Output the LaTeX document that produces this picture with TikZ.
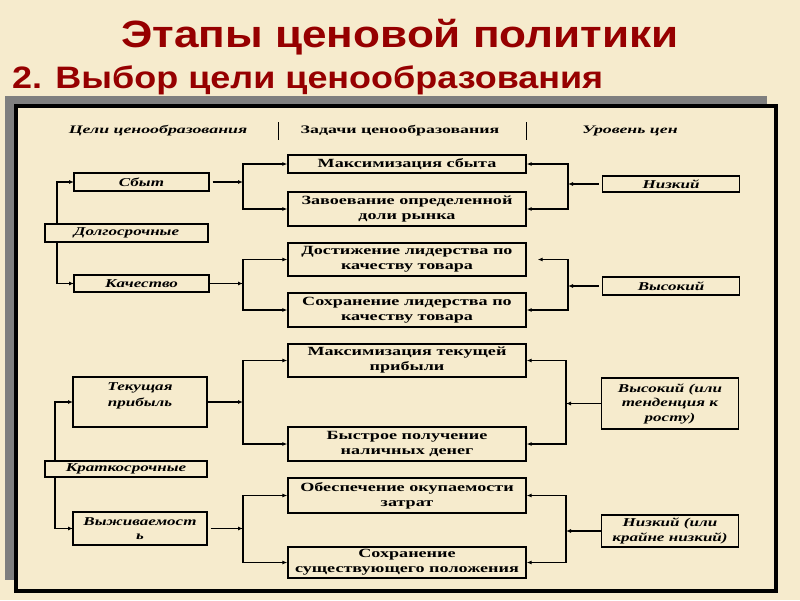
\documentclass[tikz,border=0pt]{standalone}
\usepackage{fontspec}
\setmainfont{Liberation Serif}
\newfontfamily\ttlfont[FakeStretch=1.16]{Liberation Sans}
\newfontfamily\dfont[FakeStretch=1.45]{Liberation Serif}
\newfontfamily\ifont[FakeStretch=1.42]{Liberation Serif}
\newfontfamily\hfont[FakeStretch=1.55]{Liberation Serif}
\usetikzlibrary{arrows.meta}
\definecolor{bg}{HTML}{F6EBCD}
\definecolor{ttl}{HTML}{960000}
\definecolor{shadow}{HTML}{7F7F7F}
\tikzset{
  box/.style={draw=black, line width=1.3pt, fill=bg, inner sep=0pt, align=center},
  lbox/.style={box, font=\ifont\fontsize{12}{14.5}\selectfont\bfseries\itshape},
  mbox/.style={box, minimum width=238pt, font=\dfont\fontsize{12.5}{15}\selectfont\bfseries},
  ltext/.style={inner sep=0pt, align=center, font=\ifont\fontsize{12}{16}\selectfont\bfseries\itshape},
  arr/.style={line width=1.2pt, -{Latex[length=5pt,width=4pt]}},
  hdr/.style={inner sep=0pt}
}
\begin{document}
\begin{tikzpicture}[x=1pt,y=-1pt]
\useasboundingbox (0,0) rectangle (800,600);
\fill[bg] (0,0) rectangle (800,600);
% titles
\node[anchor=base, text=ttl, inner sep=0pt, font=\ttlfont\fontsize{38}{40}\selectfont\bfseries] (title) at (400,47) {Этапы ценовой политики};
\node[anchor=base west, text=ttl, inner sep=0pt, font=\ttlfont\fontsize{31}{34}\selectfont\bfseries] (subtitle) at (12,88) {2. Выбор цели ценообразования};
% frame
\fill[shadow] (5,96) rectangle (767,580);
\draw[line width=3.5pt, fill=bg] (16,106) rectangle (776,591);
% headers
\node[hdr, font=\hfont\fontsize{11.5}{13}\selectfont\bfseries\itshape] (h1) at (158,131) {Цели ценообразования};
\node[hdr, font=\hfont\fontsize{11.5}{13}\selectfont\bfseries] (h2) at (400,131) {Задачи ценообразования};
\node[hdr, font=\hfont\fontsize{11.5}{13}\selectfont\bfseries\itshape] (h3) at (630,131) {Уровень цен};
\coordinate (s1a) at (278,122); \coordinate (s1b) at (278,140);
\coordinate (s2a) at (526,122); \coordinate (s2b) at (526,140);
\draw[line width=0.9pt] (s1a) -- (s1b);
\draw[line width=0.9pt] (s2a) -- (s2b);
% connectors left (drawn first)
\coordinate (dl) at (57,233);
\coordinate (kl) at (55,469);
\draw[arr] (dl) |- (74,182);
\draw[arr] (dl) |- (74,283.5);
\draw[arr] (kl) |- (73,402);
\draw[arr] (kl) |- (73,528.5);
% left boxes
\node[lbox, minimum width=135pt, minimum height=18pt] (sbyt) at (141.5,182) {Сбыт};
\node[lbox, minimum width=163pt, minimum height=18pt] (dolg) at (126.5,233) {Долгосрочные};
\node[lbox, minimum width=135pt, minimum height=17pt] (kach) at (141.5,283.5) {Качество};
\node[lbox, minimum width=134pt, minimum height=50pt] (tek) at (140,402) {};
\node[ltext] (tekT) at (140,396) {Текущая\\прибыль};
\node[lbox, minimum width=162pt, minimum height=16pt] (krat) at (126,469) {Краткосрочные};
\node[lbox, minimum width=134pt, minimum height=33pt] (vyzh) at (140,528.5) {Выживаемост\\ь};
% middle boxes
\node[mbox, minimum height=18pt] (m1) at (407,164) {Максимизация сбыта};
\node[mbox, minimum height=34pt] (m2) at (407,209) {Завоевание определенной\\доли рынка};
\node[mbox, minimum height=33pt] (m3) at (407,259.5) {Достижение лидерства по\\качеству товара};
\node[mbox, minimum height=34pt] (m4) at (407,310) {Сохранение лидерства по\\качеству товара};
\node[mbox, minimum height=33pt] (m5) at (407,360.5) {Максимизация текущей\\прибыли};
\node[mbox, minimum height=34pt] (m6) at (407,444) {Быстрое получение\\наличных денег};
\node[mbox, minimum height=35pt] (m7) at (407,495.5) {Обеспечение окупаемости\\затрат};
\node[mbox, minimum height=31pt] (m8) at (407,562.5) {Сохранение\\существующего положения};
% right boxes
\node[lbox, minimum width=137pt, minimum height=16pt] (r1) at (671,184) {Низкий};
\node[lbox, minimum width=137pt, minimum height=18pt] (r2) at (671,286) {Высокий};
\node[lbox, minimum width=137pt, minimum height=51pt] (r3) at (670,403.5) {Высокий (или\\тенденция к\\росту)};
\node[lbox, minimum width=137pt, minimum height=32pt] (r4) at (670,531) {Низкий (или\\крайне низкий)};
% left to middle
\coordinate (jl1) at (243,182);
\coordinate (jl2) at (243,283.5);
\coordinate (jl3) at (243,402);
\coordinate (jl4) at (243,528.5);
\draw[arr, shorten <=3pt] (sbyt.east) -- (jl1);
\draw[arr] (kach.east) -- (jl2);
\draw[arr] (tek.east) -- (jl3);
\draw[arr, shorten <=3pt] (vyzh.east) -- (jl4);
\draw[arr] (jl1) |- (m1.west);
\draw[arr] (jl1) |- (m2.west);
\draw[arr] (jl2) |- (m3.west);
\draw[arr] (jl2) |- (m4.west);
\draw[arr] (jl3) |- (m5.west);
\draw[arr] (jl3) |- (m6.west);
\draw[arr] (jl4) |- (m7.west);
\draw[arr] (jl4) |- (m8.west);
% right to middle
\coordinate (jr1) at (568,184);
\coordinate (jr2) at (568,286);
\coordinate (jr3) at (566,403.5);
\coordinate (jr4) at (566,531);
\draw[arr, shorten <=3pt] (r1.west) -- (jr1);
\draw[arr, shorten <=3pt] (r2.west) -- (jr2);
\draw[arr] (r3.west) -- (jr3);
\draw[arr] (r4.west) -- (jr4);
\draw[arr] (jr1) |- (m1.east);
\draw[arr] (jr1) |- (m2.east);
\draw[arr, shorten >=11pt] (jr2) |- (m3.east);
\draw[arr] (jr2) |- (m4.east);
\draw[arr] (jr3) |- (m5.east);
\draw[arr] (jr3) |- (m6.east);
\draw[arr] (jr4) |- (m7.east);
\draw[arr] (jr4) |- (m8.east);
\end{tikzpicture}
\end{document}
